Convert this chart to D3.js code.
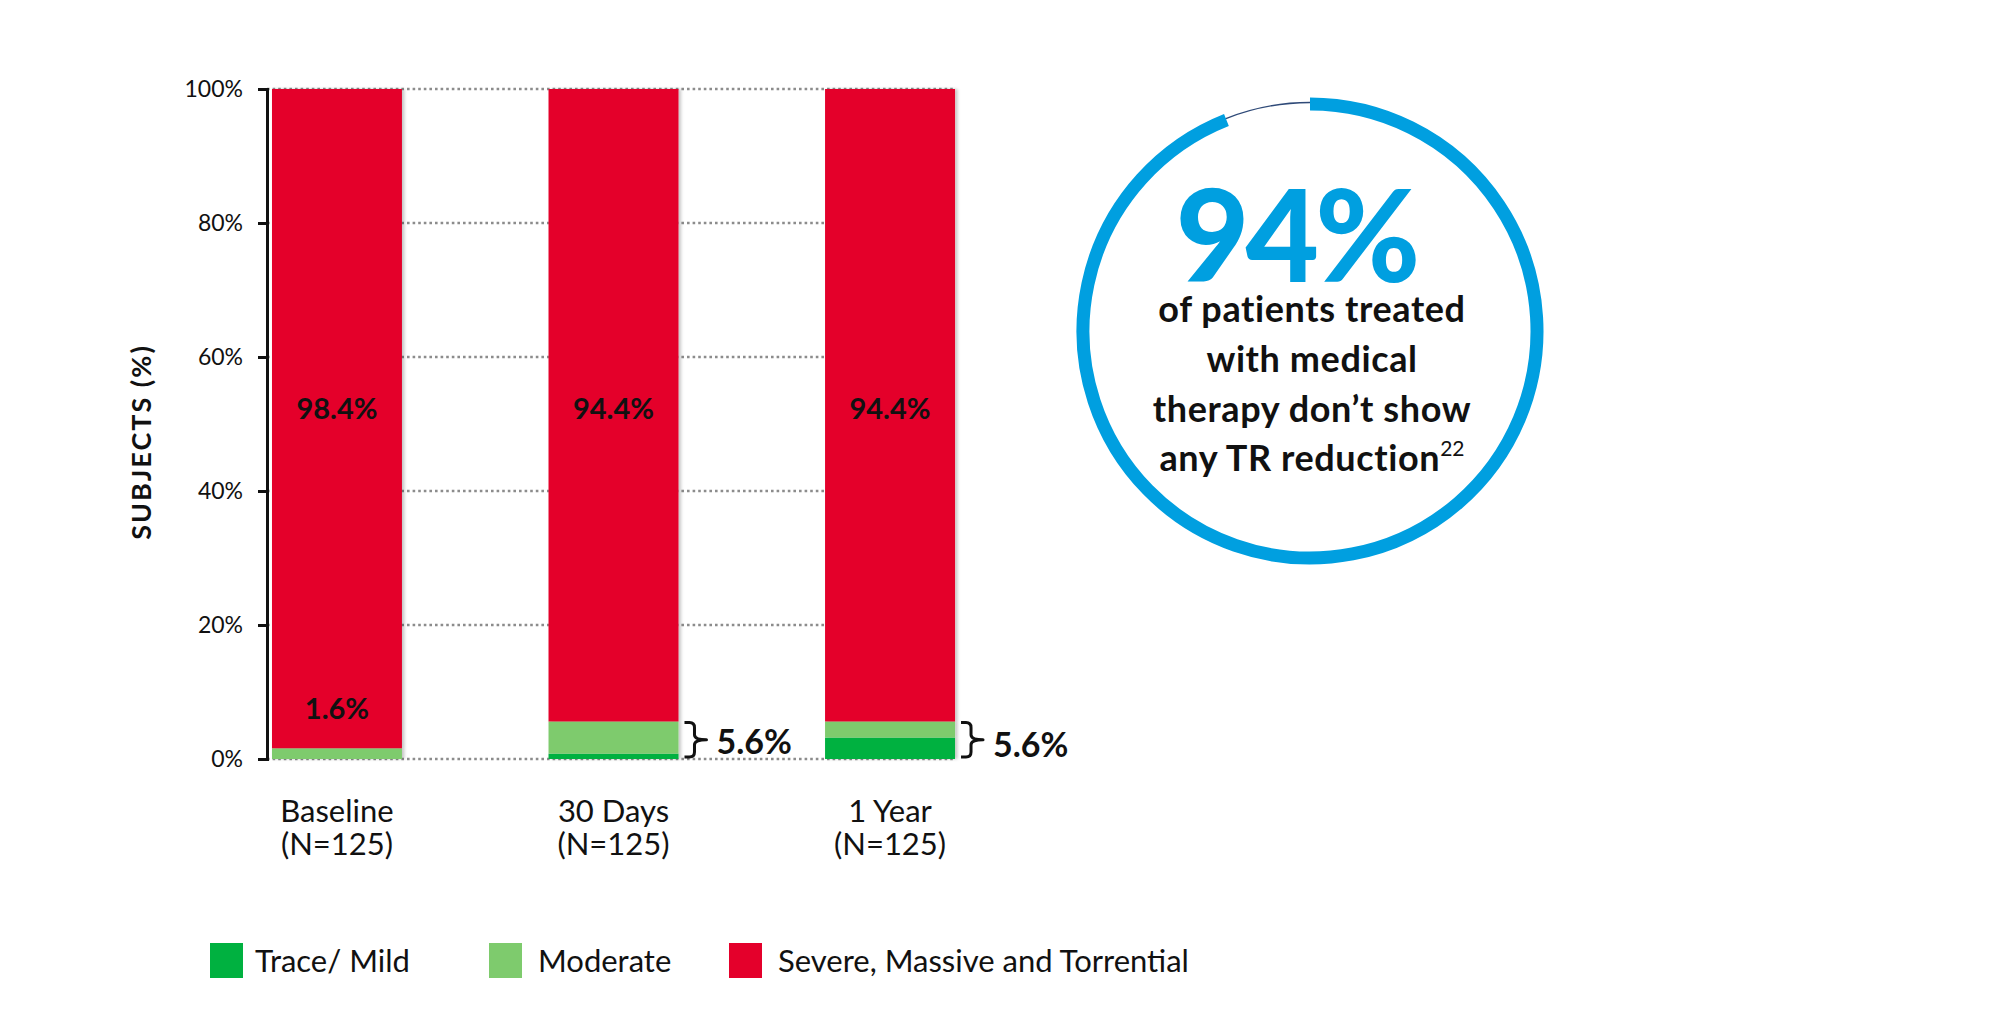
<!DOCTYPE html>
<html>
<head>
<meta charset="utf-8">
<script src="https://cdn.jsdelivr.net/npm/d3@7"></script>
<style>
  html, body { margin: 0; padding: 0; background: #fff; }
  svg { display: block; font-family: Lato, "Open Sans", sans-serif; }
</style>
</head>
<body>
<svg id="chart" width="2000" height="1030"></svg>
<script>
// ---------------- DATA ----------------
const categories = ["Baseline", "30 Days", "1 Year"];
const categorySub = ["(N=125)", "(N=125)", "(N=125)"];
const seriesNames = ["Trace/ Mild", "Moderate", "Severe, Massive and Torrential"];
const traceMild = [0, 0.8, 3.2];
const moderate = [1.6, 4.8, 2.4];
const severe = [98.4, 94.4, 94.4];
const yTicks = [0, 20, 40, 60, 80, 100];
const calloutValue = 94;
const calloutLines = ["of patients treated", "with medical", "therapy don\u2019t show", "any TR reduction"];
const calloutRef = "22";

// ---------------- STYLE ----------------
const colors = ["#00b140", "#7ecb6d", "#e4002b"];
const ringBlue = "#009fe0";

const svg = d3.select("#chart");

const rows = categories.map((c, i) => ({
  cat: c, sub: categorySub[i],
  [seriesNames[0]]: traceMild[i],
  [seriesNames[1]]: moderate[i],
  [seriesNames[2]]: severe[i]
}));

const y = d3.scaleLinear().domain([0, 100]).range([759, 89]);
const x = d3.scaleBand().domain(categories).range([267, 960])
  .paddingInner(0.53).paddingOuter(0.018);

const stack = d3.stack().keys(seriesNames)(rows);

// defs: bar shadow
const defs = svg.append("defs");
const f = defs.append("filter").attr("id", "shadow")
  .attr("x", "-10%").attr("y", "-5%").attr("width", "130%").attr("height", "110%");
f.append("feDropShadow").attr("dx", 2.5).attr("dy", 0).attr("stdDeviation", 1.6)
  .attr("flood-color", "#000").attr("flood-opacity", 0.22);

// gridlines
const gridRight = x(categories[categories.length - 1]) + x.bandwidth();
svg.append("g").selectAll("line").data(yTicks).join("line")
  .attr("x1", 267).attr("x2", gridRight)
  .attr("y1", d => y(d)).attr("y2", d => y(d))
  .attr("stroke", "#8c8c8c").attr("stroke-width", 2.6)
  .attr("stroke-dasharray", "2.6,3");

// bars
const barsG = svg.append("g").attr("filter", "url(#shadow)");
barsG.selectAll("g").data(stack).join("g")
  .attr("fill", (d, i) => colors[i])
  .selectAll("rect").data(d => d).join("rect")
  .attr("x", d => x(d.data.cat))
  .attr("width", x.bandwidth())
  .attr("y", d => y(d[1]))
  .attr("height", d => y(d[0]) - y(d[1]));

// y axis
const yAxis = d3.axisLeft(y).tickValues(yTicks).tickFormat(d => d + "%")
  .tickSize(9).tickPadding(15);
const axG = svg.append("g").attr("transform", "translate(267,0)").call(yAxis);
axG.select(".domain").attr("stroke", "#111").attr("stroke-width", 3);
axG.selectAll(".tick line").attr("stroke", "#111").attr("stroke-width", 3);
axG.selectAll(".tick text").attr("font-family", "Lato").attr("font-size", 23)
  .attr("fill", "#111");

// y title
svg.append("text")
  .attr("transform", "translate(151,442) rotate(-90)")
  .attr("text-anchor", "middle")
  .attr("font-size", 27).attr("font-weight", 700).attr("letter-spacing", 2)
  .attr("fill", "#111").text("SUBJECTS (%)");

// severe labels
svg.append("g").selectAll("text").data(categories).join("text")
  .attr("x", d => x(d) + x.bandwidth() / 2)
  .attr("y", y(52.3) + 10)
  .attr("text-anchor", "middle")
  .attr("font-size", 29).attr("font-weight", 700).attr("fill", "#111")
  .text((d, i) => severe[i].toFixed(1) + "%");

// moderate-only label on baseline (where no trace/mild)
svg.append("g").selectAll("text")
  .data(categories.filter((d, i) => traceMild[i] === 0))
  .join("text")
  .attr("x", d => x(d) + x.bandwidth() / 2)
  .attr("y", d => y(moderate[categories.indexOf(d)]) - 29)
  .attr("text-anchor", "middle")
  .attr("font-size", 29).attr("font-weight", 700).attr("fill", "#111")
  .text(d => moderate[categories.indexOf(d)].toFixed(1) + "%");

// brackets for combined trace+moderate
const braceData = categories.map((c, i) => ({ cat: c, total: traceMild[i] + moderate[i], trace: traceMild[i] }))
  .filter(d => d.trace > 0);
const braceG = svg.append("g").selectAll("g").data(braceData).join("g");
braceG.append("path")
  .attr("d", d => {
    const xL = x(d.cat) + x.bandwidth() + 6;
    const xM = xL + 10, xR = xL + 22, c = 5;
    const yT = y(d.total) + 1, yB = y(0) - 2, yM = (yT + yB) / 2;
    return `M${xL},${yT} H${xM - c} Q${xM},${yT} ${xM},${yT + c} V${yM - c} Q${xM},${yM} ${xR},${yM}` +
      ` Q${xM},${yM} ${xM},${yM + c} V${yB - c} Q${xM},${yB} ${xM - c},${yB} H${xL}`;
  })
  .attr("fill", "none").attr("stroke", "#111").attr("stroke-width", 3)
  .attr("stroke-linejoin", "round");
braceG.append("text")
  .attr("x", d => x(d.cat) + x.bandwidth() + 38)
  .attr("y", (d, i) => y(0) - 5 + i * 3)
  .attr("font-size", 34).attr("font-weight", 700).attr("fill", "#111")
  .text(d => d.total.toFixed(1) + "%");

// category labels
const catG = svg.append("g").selectAll("text").data(rows).join("text")
  .attr("text-anchor", "middle")
  .attr("font-size", 31).attr("fill", "#111");
catG.append("tspan").attr("x", d => x(d.cat) + x.bandwidth() / 2).attr("y", 822).text(d => d.cat);
catG.append("tspan").attr("x", d => x(d.cat) + x.bandwidth() / 2).attr("y", 855).text(d => d.sub);

// legend
const legendX = [210, 489, 729];
const lg = svg.append("g").selectAll("g").data(seriesNames).join("g")
  .attr("transform", (d, i) => `translate(${legendX[i]},943)`);
lg.append("rect").attr("width", 33).attr("height", 35).attr("fill", (d, i) => colors[i]);
lg.append("text").attr("x", (d, i) => i === 0 ? 45 : 49).attr("y", 29)
  .attr("font-size", 31).attr("fill", "#111").text(d => d);

// callout ring
const cx = 1310, cy = 331, r = 227;
const ring = svg.append("g").attr("transform", `translate(${cx},${cy})`);
ring.append("circle").attr("r", r + 1.5).attr("fill", "none")
  .attr("stroke", "#2f4a78").attr("stroke-width", 1.3);
const arcGen = d3.arc().innerRadius(r).outerRadius(r).startAngle(0)
  .endAngle(2 * Math.PI * calloutValue / 100);
ring.append("path").attr("d", arcGen())
  .attr("fill", "none").attr("stroke", ringBlue).attr("stroke-width", 13)
  .attr("stroke-linecap", "round");

svg.append("text").attr("x", 1296).attr("y", 282).attr("text-anchor", "middle")
  .attr("font-size", 127).attr("font-weight", 900).attr("letter-spacing", -4)
  .attr("fill", ringBlue).text(calloutValue + "%");

const lineY = [322, 372, 421.5, 471];
const ct = svg.append("g").selectAll("text").data(calloutLines).join("text")
  .attr("x", 1312).attr("y", (d, i) => lineY[i])
  .attr("text-anchor", "middle")
  .attr("font-size", 36).attr("font-weight", 700).attr("letter-spacing", 0.6)
  .attr("fill", "#111");
ct.append("tspan").text(d => d);
ct.filter((d, i) => i === calloutLines.length - 1)
  .append("tspan").attr("dy", -15).attr("font-size", 21).attr("font-weight", 400)
  .attr("letter-spacing", 0).text(calloutRef);
</script>
</body>
</html>
